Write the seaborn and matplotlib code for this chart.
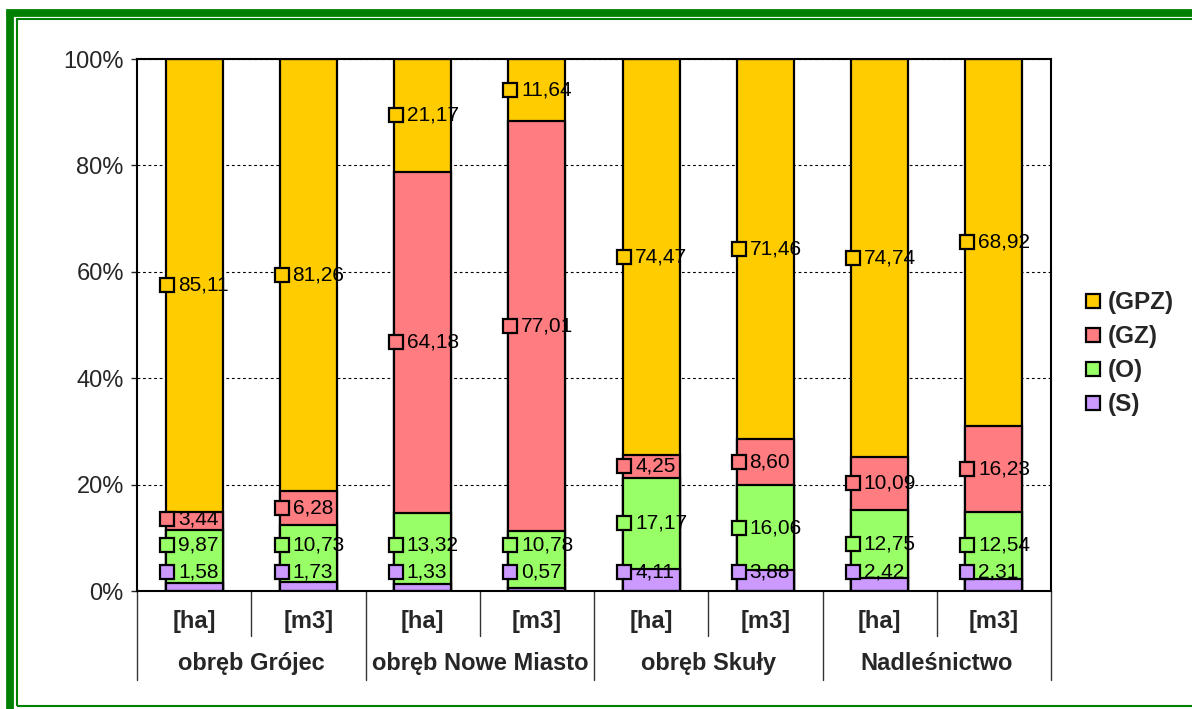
#!/usr/bin/env python

import matplotlib
matplotlib.use("Agg")
import matplotlib.pyplot as plt
from matplotlib.lines import Line2D
from matplotlib.patches import Rectangle
import pandas as pd
import seaborn as sns

# data (percent shares, Polish decimal comma)
groups = ["obręb Grójec", "obręb Nowe Miasto", "obręb Skuły", "Nadleśnictwo"]
units = ["[ha]", "[m3]"]
series = ["(S)", "(O)", "(GZ)", "(GPZ)"]
s_vals = [1.58, 1.73, 1.33, 0.57, 4.11, 3.88, 2.42, 2.31]
o_vals = [9.87, 10.73, 13.32, 10.78, 17.17, 16.06, 12.75, 12.54]
gz_vals = [3.44, 6.28, 64.18, 77.01, 4.25, 8.60, 10.09, 16.23]
gpz_vals = [85.11, 81.26, 21.17, 11.64, 74.47, 71.46, 74.74, 68.92]
yticks = [0, 20, 40, 60, 80, 100]

colors = {"(S)": "#CC99FF", "(O)": "#99FF66", "(GZ)": "#FF7C80", "(GPZ)": "#FFCC00"}


def main():
    sns.set_style("white")
    plt.rcParams["font.family"] = ["Liberation Sans", "DejaVu Sans"]

    bars = [f"{g} {u}" for g in groups for u in units]
    df = pd.DataFrame({"bar": bars, "(S)": s_vals, "(O)": o_vals,
                       "(GZ)": gz_vals, "(GPZ)": gpz_vals})
    cum = df[series].cumsum(axis=1)

    fig = plt.figure(figsize=(11.92, 7.09), dpi=100)
    ax = fig.add_axes([137 / 1192, 118 / 709, 914 / 1192, 532 / 709])

    # stacked bars: draw cumulative totals from the top layer down
    for name in reversed(series):
        sns.barplot(x=df["bar"], y=cum[name], order=bars, color=colors[name], saturation=1,
                    width=0.5, edgecolor="black", linewidth=1.6, ax=ax, zorder=2)

    # data labels with legend key squares
    for i in range(len(bars)):
        prev = None
        bottom = 0.0
        for name in series:
            v = df.loc[i, name]
            y = bottom + v / 2
            if prev is None:
                y = max(y, 3.6)
            else:
                y = max(y, prev + 5.0)
            prev = y
            bottom += v
            ax.plot([i - 0.235], [y], marker="s", markersize=9.5, markerfacecolor=colors[name],
                    markeredgecolor="black", markeredgewidth=1.6, linestyle="none", zorder=4,
                    clip_on=False)
            ax.annotate(f"{v:.2f}".replace(".", ","), (i - 0.235, y), xytext=(11, 0),
                        textcoords="offset pixels", ha="left", va="center", fontsize=15,
                        color="black", zorder=5)

    ax.set_xlim(-0.5, len(bars) - 0.5)
    ax.set_ylim(0, 100)
    ax.set_yticks(yticks, [f"{t}%" for t in yticks], fontsize=17)
    ax.tick_params(axis="y", direction="out", length=4.5, width=1, left=True, pad=5)
    ax.tick_params(axis="x", length=0, labelbottom=False)
    ax.set_xlabel("")
    ax.set_ylabel("")
    ax.set_axisbelow(True)
    ax.yaxis.grid(True, linestyle=(0, (2.5, 2.5)), color="black", linewidth=0.8)
    for sp in ax.spines.values():
        sp.set_color("black")
        sp.set_linewidth(1.5)

    # two-level category axis
    tr = ax.get_xaxis_transform()
    for i, b in enumerate(bars):
        ax.text(i, -0.058, units[i % 2], transform=tr, ha="center", va="center",
                fontsize=17, fontweight="bold")
    for j, g in enumerate(groups):
        ax.text(2 * j + 0.5, -0.137, g, transform=tr, ha="center", va="center",
                fontsize=17, fontweight="bold")
    for j in range(len(groups)):
        ax.plot([2 * j + 0.5] * 2, [0, -0.085], transform=tr, color="#333333", lw=1, clip_on=False)
    for j in range(len(groups) + 1):
        ax.plot([2 * j - 0.5] * 2, [0, -0.168], transform=tr, color="#333333", lw=1, clip_on=False)

    handles = [Line2D([], [], marker="s", markersize=10, markerfacecolor=colors[n],
                      markeredgecolor="black", markeredgewidth=1.6, linestyle="none")
               for n in reversed(series)]
    ax.legend(handles, list(reversed(series)), loc="center left", bbox_to_anchor=(1.035, 0.446),
              frameon=False, prop={"weight": "bold", "size": 17.5}, handlelength=0.8,
              handletextpad=0.2, labelspacing=0.45, borderpad=0, borderaxespad=0)

    # green double frame around the chart
    fig.add_artist(Rectangle((10 / 1192, -0.1), 1.2, (709 - 12.5) / 709 + 0.1,
                             transform=fig.transFigure, fill=False, edgecolor="#008000", lw=5.6))
    fig.add_artist(Rectangle((17 / 1192, (709 - 705.8) / 709), 1.2, (705.8 - 19) / 709,
                             transform=fig.transFigure, fill=False, edgecolor="#008000", lw=1.5))

    fig.savefig("out.png", dpi=100)
    plt.close(fig)


if __name__ == '__main__':
    main()
